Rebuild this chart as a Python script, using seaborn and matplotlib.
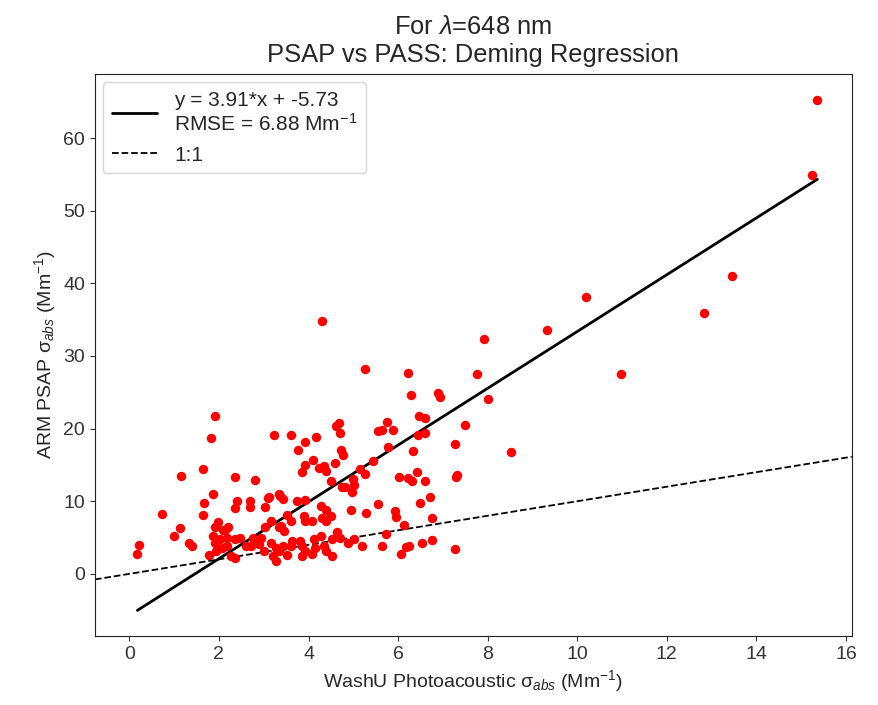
import numpy as np
import pandas as pd
import matplotlib
matplotlib.use("Agg")
import matplotlib.pyplot as plt
import seaborn as sns

# WashU photoacoustic sigma_abs (x) and ARM PSAP sigma_abs (y), Mm^-1
pass_abs = [
    15.36, 15.23, 13.46, 12.83, 10.19, 10.98, 9.33, 7.92, 7.76, 8.01, 8.52, 7.49, 7.27, 7.31, 7.27, 4.31,
    1.92, 1.83, 3.23, 3.61, 3.93, 4.16, 3.76, 4.62, 4.67, 4.71, 4.72, 4.78,
    5.26, 6.22, 6.29, 6.90, 6.94, 6.47, 6.59, 5.75, 5.55, 5.63, 5.89, 6.45, 6.61, 5.78, 6.33,
    1.65, 1.16, 1.86, 1.66, 0.74, 1.64, 1.13, 0.99, 1.33, 1.39, 0.21, 0.18, 1.78, 1.98, 1.91, 2.09,
    1.87, 2.02, 1.91, 2.06, 1.94,
    2.36, 2.81, 2.40, 2.36, 2.70, 2.70, 3.10, 3.03, 3.37, 3.42, 3.12, 3.34,
    3.93, 4.10, 3.85, 4.24, 4.35, 4.38, 4.60, 4.51, 4.74,
    3.75, 3.93, 4.27, 4.38, 4.30, 4.51, 4.38,
    3.53, 3.60, 3.90, 3.93, 4.08, 3.16, 3.34, 3.45,
    2.20, 2.17, 2.46, 2.61, 2.72, 2.94, 3.16, 3.27, 3.01, 3.20, 3.27, 3.53, 3.34, 3.42, 3.60, 3.64,
    3.82, 3.86, 3.93, 4.12, 4.15, 4.08, 4.27, 4.34, 4.38, 4.52, 4.52, 4.63, 4.71, 2.28, 3.86, 2.35, 2.17,
    2.13, 2.35, 2.76, 2.90, 3.03, 3.38,
    4.82, 5.00, 5.02, 4.97, 5.27, 5.15, 5.44, 6.02, 6.23, 6.31, 6.42, 6.59, 7.30, 6.72, 6.50, 5.55,
    4.94, 5.28, 5.92, 5.96, 6.76, 6.13, 5.72, 4.89, 5.02, 5.19, 5.63, 6.18, 6.24, 6.53, 6.76, 6.06,
]
psap_abs = [
    65.3, 54.9, 41.0, 35.9, 38.1, 27.5, 33.6, 32.4, 27.5, 24.1, 16.8, 20.45, 17.9, 13.6, 3.4, 34.8,
    21.7, 18.7, 19.1, 19.1, 18.2, 18.8, 17.1, 20.4, 20.8, 19.4, 17.0, 16.4,
    28.2, 27.7, 24.6, 24.9, 24.3, 21.8, 21.5, 20.9, 19.7, 19.8, 19.8, 19.1, 19.4, 17.5, 16.9,
    14.5, 13.5, 11.0, 9.8, 8.2, 8.1, 6.3, 5.2, 4.2, 3.8, 4.0, 2.75, 2.6, 7.2, 6.4, 6.1,
    5.2, 4.8, 4.2, 3.6, 3.2,
    13.4, 12.9, 10.0, 9.1, 10.1, 9.2, 10.4, 9.2, 10.7, 10.3, 10.6, 11.0,
    15.0, 15.7, 14.0, 14.6, 14.8, 14.2, 15.3, 12.8, 11.9,
    10.0, 10.2, 9.35, 8.8, 7.7, 7.9, 7.3,
    8.1, 7.3, 8.0, 7.3, 7.3, 7.3, 6.4, 5.9,
    6.4, 5.0, 5.0, 3.85, 3.85, 5.0, 4.3, 3.6, 3.2, 2.5, 1.8, 2.6, 3.2, 3.85, 3.85, 4.5,
    4.5, 3.85, 3.2, 4.8, 3.6, 2.7, 5.2, 3.85, 3.2, 2.5, 4.8, 5.7, 5.0, 2.5, 2.5, 4.8, 3.85,
    6.1, 2.2, 5.0, 4.1, 6.4, 6.6,
    11.9, 13.0, 12.3, 11.3, 13.7, 14.5, 15.5, 13.3, 13.2, 12.8, 14.0, 12.75, 13.3, 10.6, 9.8, 9.6,
    8.8, 8.4, 8.6, 7.8, 7.7, 6.7, 5.5, 4.3, 4.8, 3.85, 3.85, 3.75, 3.85, 4.3, 4.6, 2.7,
]

slope = 3.91
intercept = -5.73
rmse = 6.88
fit_label = f"y = {slope}*x + {intercept}\nRMSE = {rmse} Mm$^{{-1}}$"
title = "For $\\lambda$=648 nm\nPSAP vs PASS: Deming Regression"
xlabel = "WashU Photoacoustic σ$_{abs}$ (Mm$^{-1}$)"
ylabel = "ARM PSAP σ$_{abs}$ (Mm$^{-1}$)"

df = pd.DataFrame({"pass": pass_abs, "psap": psap_abs})

sns.set_style("ticks")
plt.rcParams["font.family"] = ["Liberation Sans", "DejaVu Sans"]
plt.rcParams["mathtext.fontset"] = "custom"
plt.rcParams["mathtext.rm"] = "Liberation Sans"
plt.rcParams["mathtext.it"] = "Liberation Sans:italic"

fig, ax = plt.subplots(figsize=(8.79, 7.05), dpi=100)
fig.subplots_adjust(left=0.108, right=0.969, top=0.895, bottom=0.098)

sns.scatterplot(data=df, x="pass", y="psap", color="red", s=46, linewidth=0, ax=ax, zorder=3)

xs = np.array([min(pass_abs), max(pass_abs)])
ax.plot(xs, slope * xs + intercept, color="black", lw=2, label=fit_label, zorder=2)
ax.axline((0, 0), slope=1, color="black", ls="--", lw=1.3, label="1:1", zorder=2)

ax.set_title(title, fontsize=18.4, pad=9)
ax.set_xlabel(xlabel, fontsize=14)
ax.set_ylabel(ylabel, fontsize=14)
ax.tick_params(labelsize=14, colors="#333333")
for sp in ax.spines.values():
    sp.set_color("#222222")
ax.set_xticks(np.arange(0, 17, 2))
ax.legend(loc="upper left", fontsize=15, frameon=True, handlelength=2.2,
          labelspacing=0.5, borderaxespad=0.4)

fig.savefig("out.png", dpi=100)
